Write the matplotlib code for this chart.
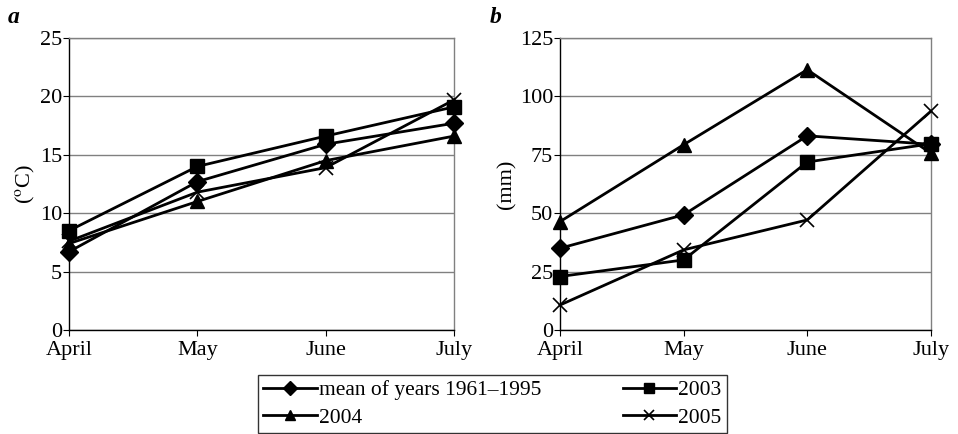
import matplotlib.pyplot as plt

plt.rcParams['font.family'] = ['Liberation Serif', 'DejaVu Serif']
plt.rcParams['mathtext.fontset'] = 'stix'

months = ['April', 'May', 'June', 'July']

# air temperature (deg C)
temp_mean = [6.7, 12.7, 15.9, 17.7]
temp_2003 = [8.5, 14.0, 16.6, 19.1]
temp_2004 = [7.4, 11.0, 14.5, 16.6]
temp_2005 = [7.6, 11.8, 13.9, 19.7]

# precipitation (mm)
rain_mean = [35.0, 49.3, 83.1, 79.5]
rain_2003 = [22.9, 30.0, 71.9, 79.7]
rain_2004 = [46.4, 79.3, 111.4, 75.7]
rain_2005 = [10.7, 34.3, 47.1, 93.6]

labels = ['mean of years 1961\u20131995', '2003', '2004', '2005']
markers = ['D', 's', '^', 'x']
msizes = [9, 10, 10, 10]

fig = plt.figure(figsize=(9.58, 4.34), dpi=100)
ax1 = fig.add_axes([0.072, 0.2396, 0.402, 0.673])
ax2 = fig.add_axes([0.5846, 0.2396, 0.387, 0.673])

x = range(len(months))

def draw(ax, series, ymax, step, ylabel):
    handles = []
    for vals, m, ms, lab in zip(series, markers, msizes, labels):
        h, = ax.plot(x, vals, color='black', lw=2, marker=m, ms=ms,
                     mew=1.2 if m == 'x' else 1, clip_on=False, label=lab, zorder=3)
        handles.append(h)
    ax.set_xlim(0, 3)
    ax.set_ylim(0, ymax)
    ax.set_yticks(range(0, ymax + 1, step))
    ax.set_xticks(list(x))
    ax.set_xticklabels(months)
    ax.yaxis.grid(True, color='#808080', lw=1)
    ax.set_axisbelow(True)
    for s in ax.spines.values():
        s.set_color('#808080')
        s.set_linewidth(1)
    ax.spines['left'].set_color('black')
    ax.spines['bottom'].set_color('black')
    ax.tick_params(labelsize=16, direction='out', length=4, color='black', pad=1)
    ax.tick_params(axis='x', pad=4)
    ax.set_ylabel(ylabel, fontsize=16, labelpad=2)
    return handles

handles = draw(ax1, [temp_mean, temp_2003, temp_2004, temp_2005], 25, 5, '($^{\\mathrm{o}}$C)')
draw(ax2, [rain_mean, rain_2003, rain_2004, rain_2005], 125, 25, '(mm)')

fig.text(0.008, 0.96, 'a', fontsize=17, fontweight='bold', fontstyle='italic', va='center')
fig.text(0.511, 0.96, 'b', fontsize=17, fontweight='bold', fontstyle='italic', va='center')

# legend in two columns, order: mean, 2003 / 2004, 2005
order = [0, 2, 1, 3]
leg = fig.legend([handles[i] for i in order], [labels[i] for i in order],
                 ncol=2, loc='lower left', bbox_to_anchor=(0.269, 0.002, 0.49, 0.145),
                 mode='expand', fontsize=15.5, frameon=True, fancybox=False,
                 handlelength=2.5, handletextpad=0.1, borderpad=0.25, labelspacing=0.35,
                 borderaxespad=0)
leg.get_frame().set_edgecolor('black')
leg.get_frame().set_linewidth(1)
for h in leg.legend_handles:
    h.set_markersize(7)

fig.savefig('out.png', dpi=100)
